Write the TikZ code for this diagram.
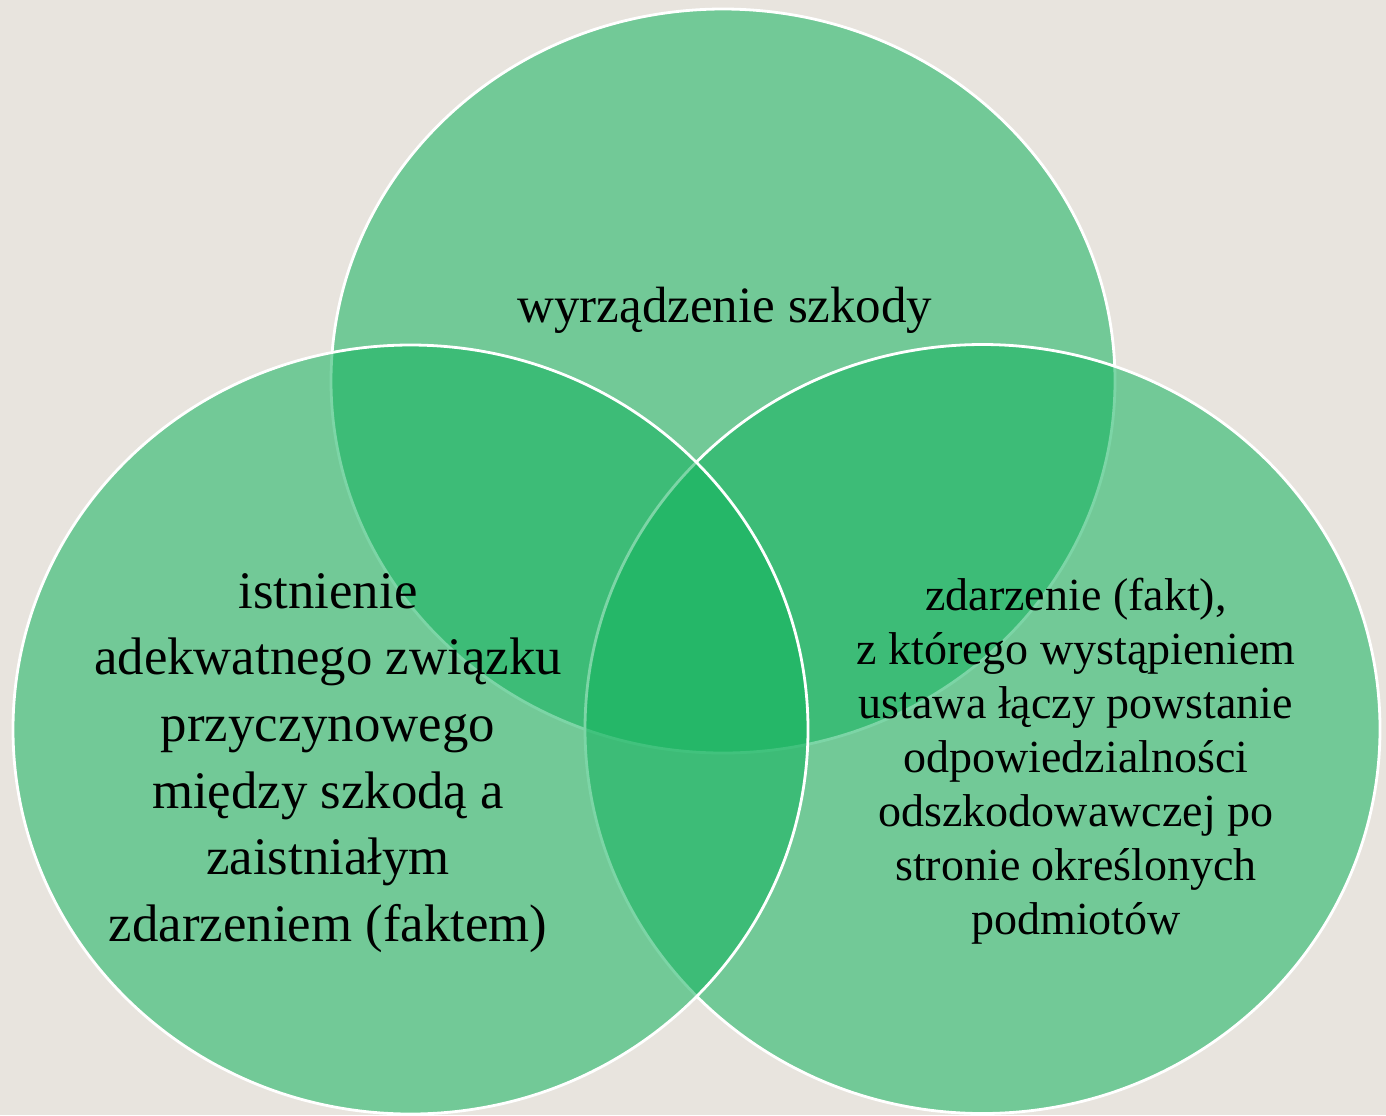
\documentclass[tikz,border=0pt]{standalone}
\usepackage{fontspec}
\setmainfont{Liberation Serif}
\usetikzlibrary{shapes.geometric}
\definecolor{bgc}{HTML}{E8E4DE}
\definecolor{vgreen}{RGB}{18,179,93}
\tikzset{
  vcircle/.style={ellipse, inner sep=0pt, fill=vgreen, fill opacity=0.55,
    draw=white, draw opacity=1, line width=1.4pt},
  vtext/.style={align=center, text=black, inner sep=0pt}
}
\begin{document}
\begin{tikzpicture}[x=0.5pt,y=-0.5pt]
  \fill[bgc] (0,0) rectangle (1386,1115);
  \useasboundingbox (0,0) rectangle (1386,1115);
  % circles: drawn in order top, right, left
  \node[vcircle, minimum width=392pt, minimum height=372pt] (ctop) at (723,381) {};
  \node[vcircle, minimum width=397.5pt, minimum height=384.5pt] (cright) at (982.5,729) {};
  \node[vcircle, minimum width=397.5pt, minimum height=384.5pt] (cleft) at (410.5,729.5) {};
  % texts
  \node[vtext, anchor=base, font=\fontsize{25.5}{27}\selectfont] (ttop) at (725,322) {wyrządzenie szkody};
  \node[vtext, font=\fontsize{26.4}{33.3}\selectfont] (tleft) at (328,763)
    {istnienie\\adekwatnego związku\\przyczynowego\\między szkodą a\\zaistniałym\\zdarzeniem (faktem)};
  \node[vtext, font=\fontsize{23}{27}\selectfont] (tright) at (1076,761)
    {zdarzenie (fakt),\\z którego wystąpieniem\\ustawa łączy powstanie\\odpowiedzialności\\odszkodowawczej po\\stronie określonych\\podmiotów};
\end{tikzpicture}
\end{document}
